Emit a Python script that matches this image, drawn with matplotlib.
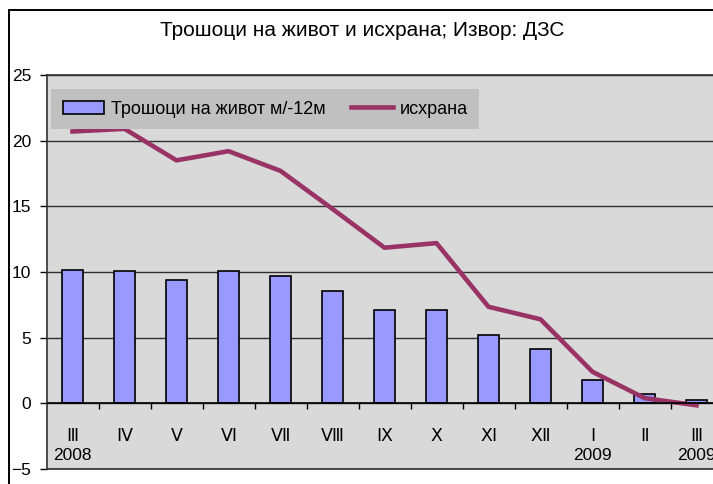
#!/usr/bin/env python3
import numpy as np
import matplotlib
matplotlib.use("Agg")
import matplotlib.pyplot as plt
from matplotlib.patches import Rectangle

# months (roman numerals) and year labels under them
months = ["Ⅲ", "Ⅳ", "Ⅴ", "Ⅵ", "Ⅶ", "Ⅷ", "Ⅸ", "Ⅹ", "Ⅺ", "Ⅻ", "Ⅰ", "Ⅱ", "Ⅲ"]
years = ["2008", "", "", "", "", "", "", "", "", "", "2009", "", "2009"]

# cost of living, y/y %
cost_of_living = [10.15, 10.05, 9.4, 10.05, 9.7, 8.55, 7.1, 7.1, 5.2, 4.1, 1.8, 0.7, 0.28]
# food
food = [20.7, 20.9, 18.5, 19.2, 17.7, 14.8, 11.85, 12.2, 7.35, 6.4, 2.4, 0.4, -0.15]

title = "Трошоци на живот и исхрана; Извор: ДЗС"
bar_label = "Трошоци на живот м/-12м"
line_label = "исхрана"

plt.rcParams["font.family"] = ["Liberation Sans", "DejaVu Sans"]

W, H = 713, 484
fig = plt.figure(figsize=(W / 100, H / 100), dpi=100)

# outer chart frame (right/bottom cropped off)
fig.patches.append(Rectangle((9 / W, -0.1), 1.2, (H - 10) / H + 0.1,
                             transform=fig.transFigure, fill=False,
                             edgecolor="black", linewidth=1.4))

fig.text(362 / W, 1 - 31 / H, title, ha="center", va="center", fontsize=15)

ax = fig.add_axes([46.5 / W, (H - 469) / H, 676 / W, (469 - 75) / H])
ax.set_facecolor("#D9D9D9")

x = np.arange(len(months))
bars = ax.bar(x, cost_of_living, width=0.385, color="#9999FF", edgecolor="black",
              linewidth=1.2, label=bar_label, zorder=3)
line, = ax.plot(x, food, color="#993366", linewidth=3.3, label=line_label, zorder=4)

ax.set_xlim(-0.5, len(months) - 0.5)
ax.set_ylim(-5, 25)
ax.set_yticks(np.arange(-5, 26, 5))
ax.tick_params(axis="y", direction="out", length=5, width=1, pad=6, labelsize=12.5)
ax.set_xticks([])
ax.yaxis.grid(True, color="#303030", linewidth=1)
ax.set_axisbelow(True)
for s in ax.spines.values():
    s.set_color("#303030")
    s.set_linewidth(1.2)

# category axis at zero with small tick marks between months
ax.axhline(0, color="black", linewidth=1.2, zorder=5)
ax.vlines(x[:-1] + 0.5, -0.45, 0, color="black", linewidth=1, zorder=5)
for xi, m, yr in zip(x, months, years):
    ax.text(xi, -2.5, m, ha="center", va="center", fontsize=12.5)
    if yr:
        ax.text(xi, -4.0, yr, ha="center", va="center", fontsize=12.5)

leg = ax.legend([bars, line], [bar_label, line_label],
                loc="upper left", bbox_to_anchor=(0.0067, 0.9645), ncol=2,
                fontsize=13, frameon=True, fancybox=False, framealpha=1,
                facecolor="#C0C0C0", edgecolor="none", borderaxespad=0,
                borderpad=0.65, handlelength=2.3, handleheight=0.75,
                handletextpad=0.35, columnspacing=1.45)
leg.set_zorder(6)

fig.savefig("out.png", dpi=100)
